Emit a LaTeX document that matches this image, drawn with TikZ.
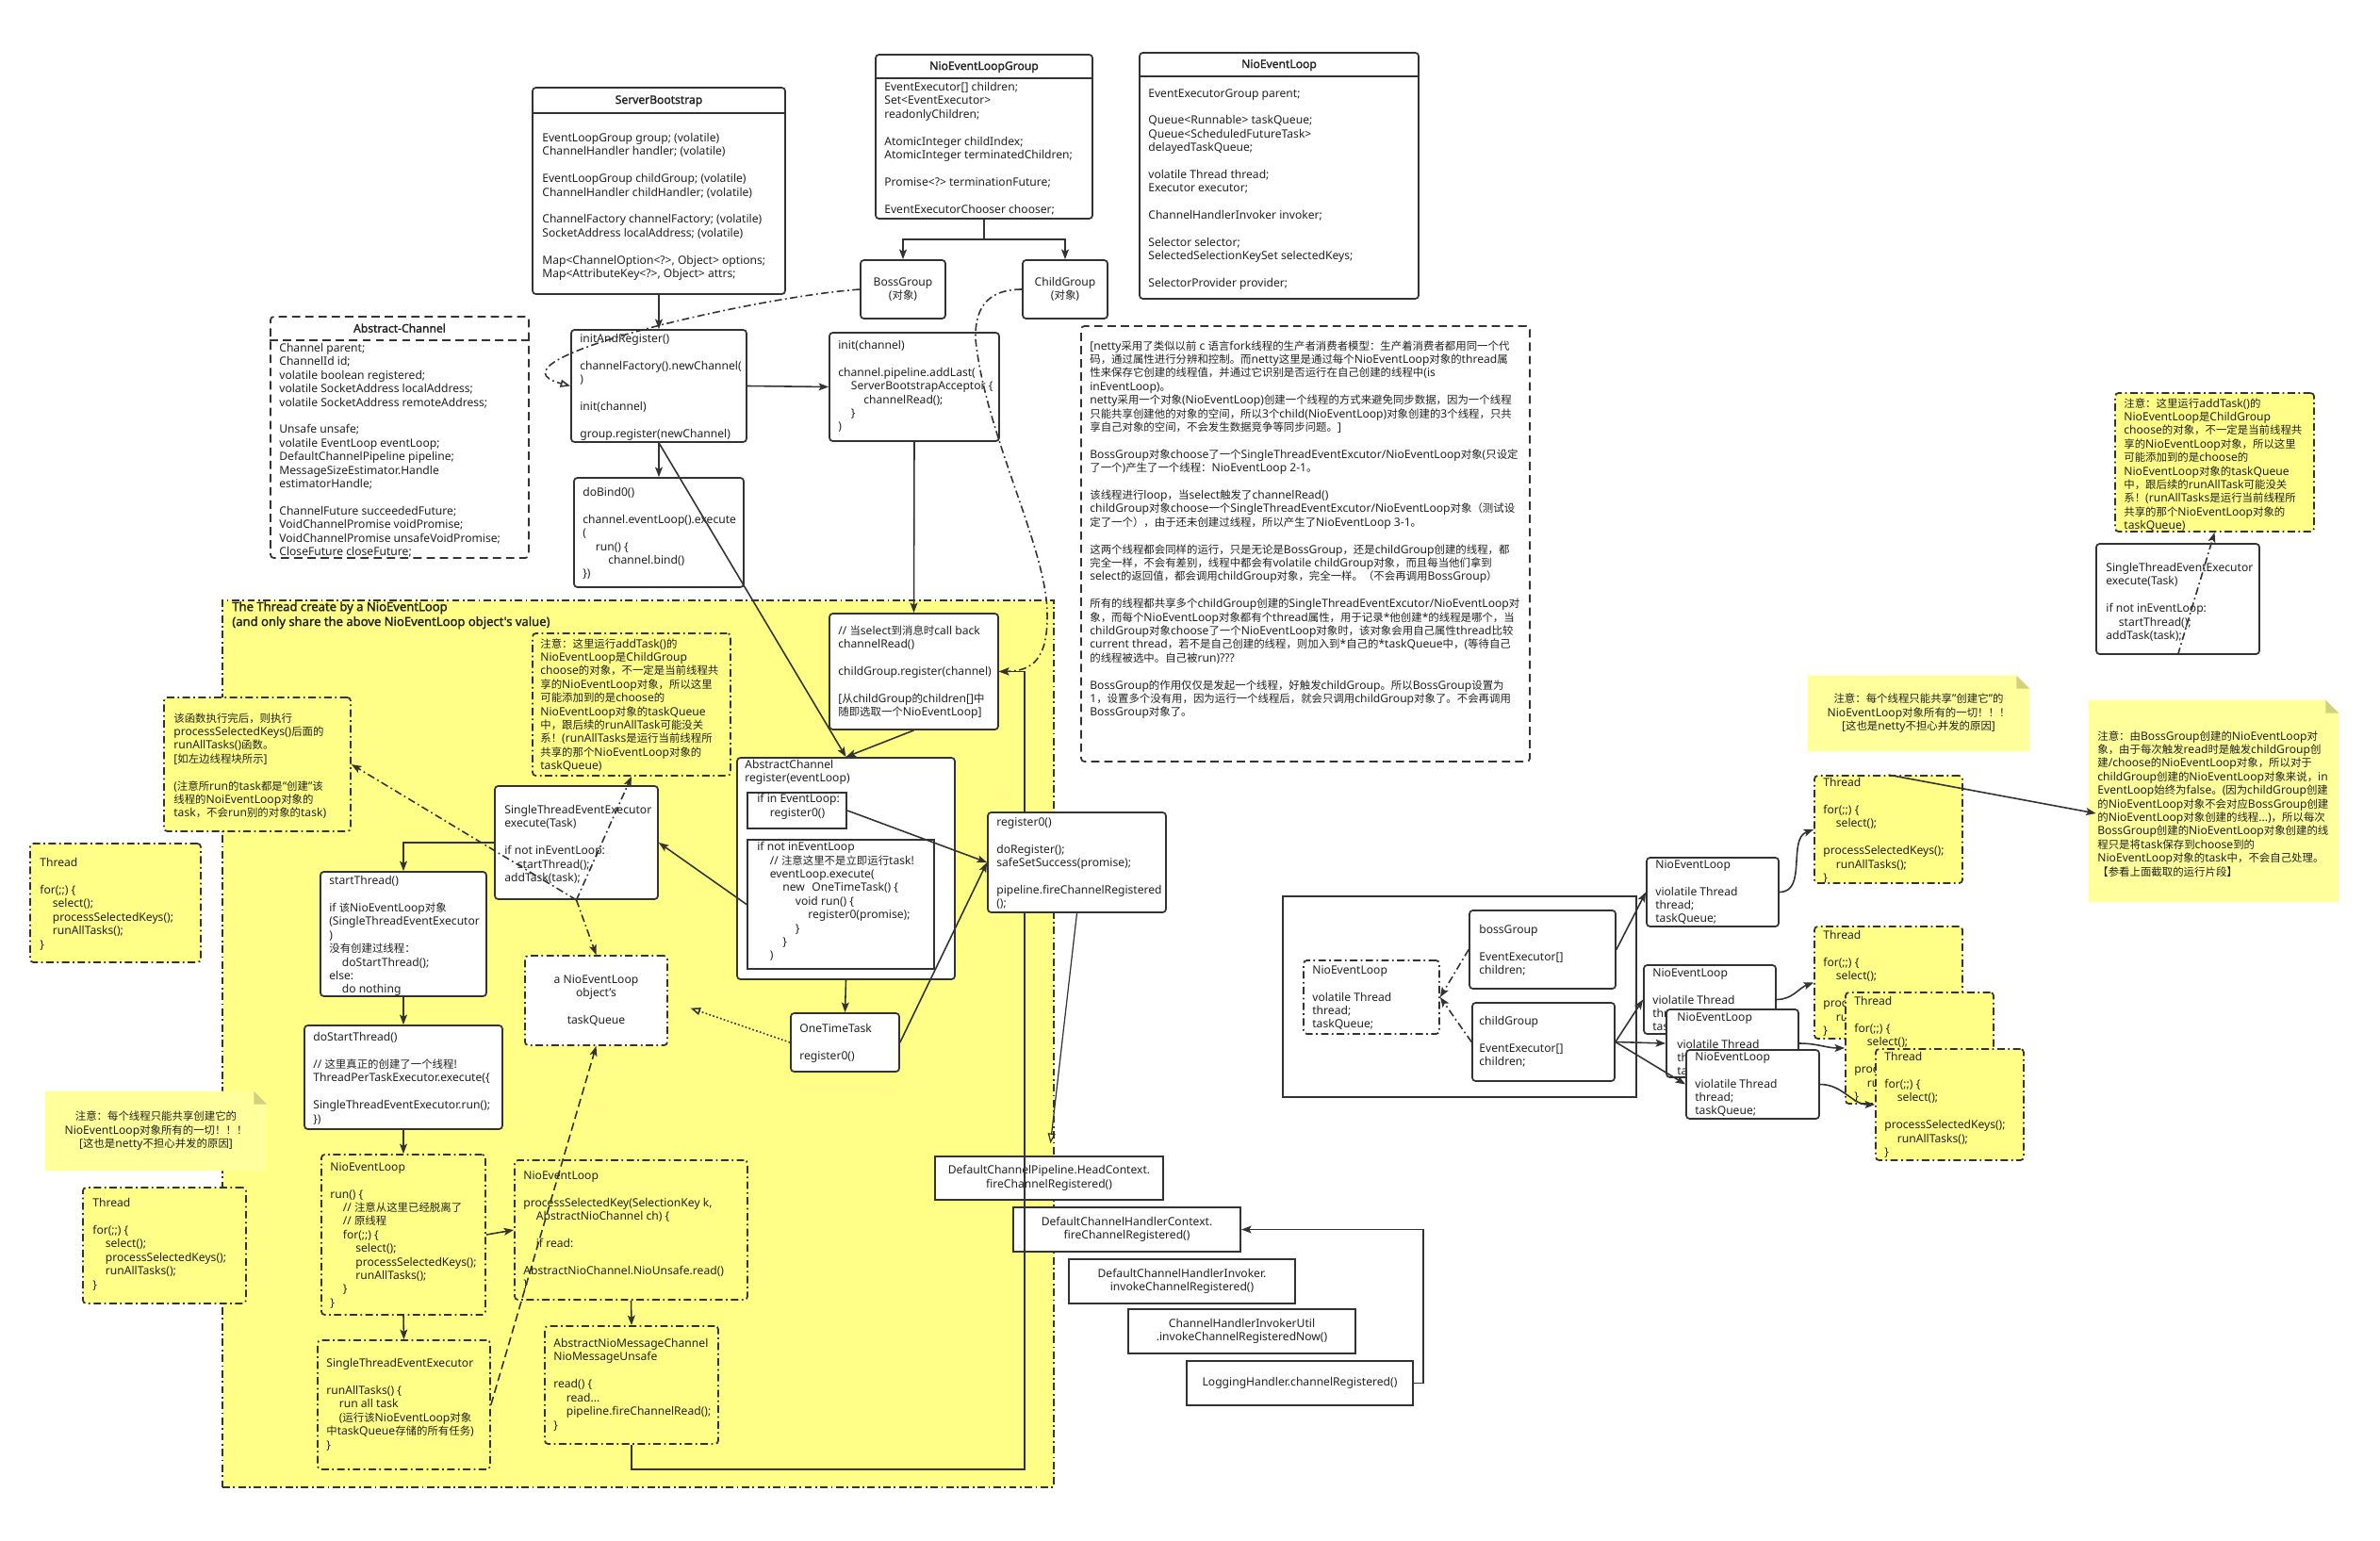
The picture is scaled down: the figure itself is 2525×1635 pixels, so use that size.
\documentclass[tikz,border=0pt]{standalone}
\usepackage{fontspec}
\setmainfont{Noto Sans}[Scale=1.06]
\newfontfamily\cjkfont{Noto Sans CJK SC}
\newfontfamily\titlefont{Noto Sans}[Scale=1.06, FakeBold=1.6]
\usepackage{xcolor}
\usetikzlibrary{arrows.meta,fit}

% switch to the CJK font for Chinese characters
\XeTeXinterchartokenstate=1
\newXeTeXintercharclass\cjkcls
\count255="3000
\loop
  \XeTeXcharclass\count255=\cjkcls
  \advance\count255 by 1
\ifnum\count255<"A000 \repeat
\count255="FF00
\loop
  \XeTeXcharclass\count255=\cjkcls
  \advance\count255 by 1
\ifnum\count255<"FFF0 \repeat
\XeTeXinterchartoks 0 \cjkcls = {\cjkfont}
\XeTeXinterchartoks 4095 \cjkcls = {\cjkfont}
\XeTeXinterchartoks \cjkcls 0 = {\rmfamily}
\XeTeXinterchartoks \cjkcls 4095 = {\rmfamily}

\definecolor{linec}{HTML}{333333}
\definecolor{textc}{HTML}{222222}
\definecolor{areayellow}{HTML}{FFFF88}
\definecolor{stickyyellow}{HTML}{FFFF9C}
\definecolor{foldc}{HTML}{D2D27E}

\newcommand\boxfont{\fontsize{6.5pt}{8.2pt}\selectfont}
\newcommand\indt{\hspace*{0.27cm}}

\tikzset{
box/.style={
draw=linec,
line width=1pt,
rounded corners=2pt,
fill=white,
inner sep=0pt
},
sqbox/.style={
draw=linec,
line width=1.2pt,
fill=white,
inner sep=0pt
},
dashdot/.style={dash pattern=on 4.5pt off 2pt on 1pt off 2pt},
longdash/.style={dash pattern=on 5pt off 2.5pt},
dotline/.style={dash pattern=on 1pt off 1.3pt},
ddbox/.style={box, fill=areayellow, dashdot},
ddwhite/.style={box, dashdot},
dashbox/.style={box, dash pattern=on 5pt off 3pt},
area/.style={
draw=linec,
line width=1pt,
fill=areayellow,
inner sep=0pt,
dashdot
},
txt/.style={
inner sep=0pt,
anchor=north west,
align=left,
font=\boxfont,
text=textc
},
ctxt/.style={
inner sep=0pt,
align=center,
font=\boxfont,
text=textc
},
head/.style={inner sep=0pt, font=\boxfont\titlefont, text=textc},
hline/.style={draw=linec, line width=1pt},
arrow/.style={
-{Stealth[length=6pt,width=4.5pt,inset=1.3pt]},
draw=linec,
line width=0.9pt
},
openarrow/.style={
-{Triangle[open,length=6pt,width=4.5pt]},
draw=linec,
line width=0.9pt
},
sticky/.style={fill=stickyyellow},
fold/.style={fill=foldc}
}

\begin{document}
\begin{tikzpicture}[x=0.02cm,y=-0.02cm]
\fill[white] (0,0) rectangle (2525,1635);
\useasboundingbox (0,0) rectangle (2525,1635);

% classes at the top
\node[box, fit={(565,93)(833,312)}] (sb) {};
\draw[hline] ([shift={(0,28)}]sb.north west) -- ([shift={(0,28)}]sb.north east);
\node[head] (sbH) at ([shift={(0,15)}]sb.north) {ServerBootstrap};
\node[txt] (sbT) at (575,141) {EventLoopGroup group; (volatile)\\
ChannelHandler handler; (volatile)\\ \\
EventLoopGroup childGroup; (volatile)\\
ChannelHandler childHandler; (volatile)\\ \\
ChannelFactory channelFactory; (volatile)\\
SocketAddress localAddress; (volatile)\\ \\
Map<ChannelOption<?>, Object> options;\\
Map<AttributeKey<?>, Object> attrs;};

\node[box, fit={(929,58)(1159,232)}] (grp) {};
\draw[hline] ([shift={(0,26)}]grp.north west) -- ([shift={(0,26)}]grp.north east);
\node[head] (grpH) at ([shift={(0,14)}]grp.north) {NioEventLoopGroup};
\node[txt] (grpT) at (938,87) {EventExecutor[] children;\\
Set<EventExecutor>\\
readonlyChildren;\\ \\
AtomicInteger childIndex;\\
AtomicInteger terminatedChildren;\\ \\
Promise<?> terminationFuture;\\ \\
EventExecutorChooser chooser;};

\node[box, fit={(1209,56)(1505,317)}] (nel) {};
\draw[hline] ([shift={(0,26)}]nel.north west) -- ([shift={(0,26)}]nel.north east);
\node[head] (nelH) at ([shift={(0,14)}]nel.north) {NioEventLoop};
\node[txt] (nelT) at (1218,94) {EventExecutorGroup parent;\\ \\
Queue<Runnable> taskQueue;\\
Queue<ScheduledFutureTask>\\
delayedTaskQueue;\\ \\
volatile Thread thread;\\
Executor executor;\\ \\
ChannelHandlerInvoker invoker;\\ \\
Selector selector;\\
SelectedSelectionKeySet selectedKeys;\\ \\
SelectorProvider provider;};

\node[box, fit={(913,276)(1003,338)}] (boss) {};
\node[ctxt] (bossT) at (boss.center) {BossGroup\\(对象)};
\node[box, fit={(1085,276)(1175,338)}] (child) {};
\node[ctxt] (childT) at (child.center) {ChildGroup\\(对象)};

\node[dashbox, fit={(287,336)(561,592)}] (ac) {};
\draw[hline, dash pattern=on 5pt off 3pt] ([shift={(0,26)}]ac.north west) -- ([shift={(0,26)}]ac.north east);
\node[head] (acH) at ([shift={(0,13)}]ac.north) {Abstract-Channel};
\node[txt] (acT) at (296,364) {Channel parent;\\
ChannelId id;\\
volatile boolean registered;\\
volatile SocketAddress localAddress;\\
volatile SocketAddress remoteAddress;\\ \\
Unsafe unsafe;\\
volatile EventLoop eventLoop;\\
DefaultChannelPipeline pipeline;\\
MessageSizeEstimator.Handle\\
estimatorHandle;\\ \\
ChannelFuture succeededFuture;\\
VoidChannelPromise voidPromise;\\
VoidChannelPromise unsafeVoidPromise;\\
CloseFuture closeFuture;};

\node[box, fit={(606,350)(792,469)}] (ir) {};
\node[txt] (irT) at (615,354) {initAndRegister()\\ \\
channelFactory().newChannel(\\
)\\ \\
init(channel)\\ \\
group.register(newChannel)};

\node[box, fit={(880,353)(1060,468)}] (ic) {};
\node[txt] (icT) at (889,361) {init(channel)\\ \\
channel.pipeline.addLast(\\
\indt ServerBootstrapAcceptor \{\\
\indt\indt channelRead();\\
\indt \}\\
)};

\node[box, fit={(609,507)(789,623)}] (db) {};
\node[txt] (dbT) at (618,517) {doBind0()\\ \\
channel.eventLoop().execute\\
(\\
\indt run() \{\\
\indt\indt channel.bind()\\
\})};

\node[dashbox, fit={(1147,346)(1623,808)}] (tb) {};
\node[txt] (tbT) at (1156,361) {{[}netty采用了类似以前 c 语言fork线程的生产者消费者模型：生产着消费者都用同一个代\\
码，通过属性进行分辨和控制。而netty这里是通过每个NioEventLoop对象的thread属\\
性来保存它创建的线程值，并通过它识别是否运行在自己创建的线程中(is\\
inEventLoop)。\\
netty采用一个对象(NioEventLoop)创建一个线程的方式来避免同步数据，因为一个线程\\
只能共享创建他的对象的空间，所以3个child(NioEventLoop)对象创建的3个线程，只共\\
享自己对象的空间，不会发生数据竞争等同步问题。]\\ \\
BossGroup对象choose了一个SingleThreadEventExcutor/NioEventLoop对象(只设定\\
了一个)产生了一个线程：NioEventLoop 2-1。\\ \\
该线程进行loop，当select触发了channelRead()\\
childGroup对象choose一个SingleThreadEventExcutor/NioEventLoop对象（测试设\\
定了一个），由于还未创建过线程，所以产生了NioEventLoop 3-1。\\ \\
这两个线程都会同样的运行，只是无论是BossGroup，还是childGroup创建的线程，都\\
完全一样，不会有差别，线程中都会有volatile childGroup对象，而且每当他们拿到\\
select的返回值，都会调用childGroup对象，完全一样。（不会再调用BossGroup）\\ \\
所有的线程都共享多个childGroup创建的SingleThreadEventExcutor/NioEventLoop对\\
象，而每个NioEventLoop对象都有个thread属性，用于记录*他创建*的线程是哪个，当\\
childGroup对象choose了一个NioEventLoop对象时，该对象会用自己属性thread比较\\
current thread，若不是自己创建的线程，则加入到*自己的*taskQueue中，(等待自己\\
的线程被选中。自己被run)???\\ \\
BossGroup的作用仅仅是发起一个线程，好触发childGroup。所以BossGroup设置为\\
1，设置多个没有用，因为运行一个线程后，就会只调用childGroup对象了。不会再调用\\
BossGroup对象了。};

% the thread area
\node[area, fit={(236,637)(1118,1578)}] (reg) {};
\node[txt, font=\fontsize{7pt}{9pt}\titlefont] (regT) at (246,638) {The Thread create by a NioEventLoop\\
(and only share the above NioEventLoop object's value)};

\node[ddbox, fit={(565,672)(775,823)}] (na) {};
\node[txt] (naT) at (573,677) {注意：这里运行addTask()的\\
NioEventLoop是ChildGroup\\
choose的对象，不一定是当前线程共\\
享的NioEventLoop对象，所以这里\\
可能添加到的是choose的\\
NioEventLoop对象的taskQueue\\
中，跟后续的runAllTask可能没关\\
系！(runAllTasks是运行当前线程所\\
共享的那个NioEventLoop对象的\\
taskQueue)};

\node[ddbox, fit={(174,740)(372,882)}] (nl) {};
\node[txt] (nlT) at (184,756) {该函数执行完后，则执行\\
processSelectedKeys()后面的\\
runAllTasks()函数。\\
{[}如左边线程块所示]\\ \\
(注意所run的task都是“创建”该\\
线程的NoiEventLoop对象的\\
task，不会run别的对象的task)};

\node[ddbox, fit={(32,895)(213,1021)}] (thA) {};
\node[txt] (thAT) at (42,910) {Thread\\ \\
for(;;) \{\\
\indt select();\\
\indt processSelectedKeys();\\
\indt runAllTasks();\\
\}};

\node[box, fit={(525,834)(698,954)}] (ste) {};
\node[txt] (steT) at (535,854) {SingleThreadEventExecutor\\
execute(Task)\\ \\
if not inEventLoop:\\
\indt startThread();\\
addTask(task);};

\node[box, fit={(340,925)(516,1057)}] (st) {};
\node[txt] (stT) at (349,929) {startThread()\\ \\
if 该NioEventLoop对象\\
(SingleThreadEventExecutor\\
)\\
没有创建过线程：\\
\indt doStartThread();\\
else:\\
\indt do nothing};

\node[box, fit={(782,804)(1013,1039)}] (acr) {};
\node[txt] (acrT) at (790,806) {AbstractChannel\\
register(eventLoop)};
\node[sqbox, fit={(793,841)(898,879)}] (ie) {};
\node[txt] (ieT) at (803,842) {if in EventLoop:\\
\indt register0()};
\node[sqbox, fit={(793,891)(991,1028)}] (ine) {};
\node[txt] (ineT) at (803,893) {if not inEventLoop\\
\indt // 注意这里不是立即运行task!\\
\indt eventLoop.execute(\\
\indt\indt new\hspace*{0.15cm}OneTimeTask() \{\\
\indt\indt\indt void run() \{\\
\indt\indt\indt\indt register0(promise);\\
\indt\indt\indt \}\\
\indt\indt \}\\
\indt )};

\node[box, fit={(880,651)(1059,774)}] (sel) {};
\node[txt] (selT) at (889,663) {// 当select到消息时call back\\
channelRead()\\ \\
childGroup.register(channel)\\ \\
{[}从childGroup的children[]中\\
随即选取一个NioEventLoop]};

\node[ddwhite, fit={(557,1014)(708,1109)}] (tq) {};
\node[ctxt] (tqT) at (tq.center) {a NioEventLoop\\
object's\\ \\
taskQueue};

\node[box, fit={(839,1075)(954,1137)}] (ot) {};
\node[txt] (otT) at (848,1086) {OneTimeTask\\ \\
register0()};

\node[box, fit={(323,1088)(533,1198)}] (dst) {};
\node[txt] (dstT) at (332,1095) {doStartThread()\\ \\
// 这里真正的创建了一个线程!\\
ThreadPerTaskExecutor.execute(\{\\ \\
SingleThreadEventExecutor.run();\\
\})};

\node[ddbox, fit={(341,1225)(515,1395)}] (nr) {};
\node[txt] (nrT) at (350,1233) {NioEventLoop\\ \\
run() \{\\
\indt // 注意从这里已经脱离了\\
\indt // 原线程\\
\indt for(;;) \{\\
\indt\indt select();\\
\indt\indt processSelectedKeys();\\
\indt\indt runAllTasks();\\
\indt \}\\
\}};

\node[ddbox, fit={(337,1422)(520,1559)}] (rat) {};
\node[txt] (ratT) at (346,1441) {SingleThreadEventExecutor\\ \\
runAllTasks() \{\\
\indt run all task\\
\indt (运行该NioEventLoop对象\\
中taskQueue存储的所有任务)\\
\}};

\node[ddbox, fit={(546,1231)(793,1379)}] (psk) {};
\node[txt] (pskT) at (555,1242) {NioEventLoop\\ \\
processSelectedKey(SelectionKey k,\\
\indt AbstractNioChannel ch) \{\\ \\
\indt if read:\\ \\
AbstractNioChannel.NioUnsafe.read()\\
\}};

\node[ddbox, fit={(578,1407)(762,1532)}] (anmc) {};
\node[txt] (anmcT) at (587,1420) {AbstractNioMessageChannel\\
NioMessageUnsafe\\ \\
read() \{\\
\indt read...\\
\indt pipeline.fireChannelRead();\\
\}};

% notes on the left edge
\node[inner sep=0pt, fit={(48,1158)(283,1242)}] (snA) {};
\fill[sticky] (snA.north west) -- ([shift={(-14,0)}]snA.north east) -- ([shift={(0,14)}]snA.north east) -- (snA.south east) -- (snA.south west) -- cycle;
\fill[fold] ([shift={(-14,0)}]snA.north east) -- ([shift={(-14,14)}]snA.north east) -- ([shift={(0,14)}]snA.north east) -- cycle;
\node[ctxt] (snAT) at (snA.center) {注意：每个线程只能共享创建它的\\
NioEventLoop对象所有的一切！！！\\
{[}这也是netty不担心并发的原因]};

\node[ddbox, fit={(88,1260)(261,1383)}] (thB) {};
\node[txt] (thBT) at (98,1271) {Thread\\ \\
for(;;) \{\\
\indt select();\\
\indt processSelectedKeys();\\
\indt runAllTasks();\\
\}};

% pipeline calls
\node[sqbox, fit={(992,1227)(1234,1273)}] (hc) {};
\node[ctxt] (hcT) at (hc.center) {DefaultChannelPipeline.HeadContext.\\
fireChannelRegistered()};
\node[sqbox, fit={(1075,1281)(1316,1328)}] (dchc) {};
\node[ctxt] (dchcT) at (dchc.center) {DefaultChannelHandlerContext.\\
fireChannelRegistered()};
\node[sqbox, fit={(1134,1336)(1374,1383)}] (dchi) {};
\node[ctxt] (dchiT) at (dchi.center) {DefaultChannelHandlerInvoker.\\
invokeChannelRegistered()};
\node[sqbox, fit={(1197,1389)(1438,1436)}] (chiu) {};
\node[ctxt] (chiuT) at (chiu.center) {ChannelHandlerInvokerUtil\\
.invokeChannelRegisteredNow()};
\node[sqbox, fit={(1259,1444)(1499,1491)}] (lh) {};
\node[ctxt] (lhT) at (lh.center) {LoggingHandler.channelRegistered()};

\coordinate (rbus) at (1087,1559);
\draw[arrow] (anmc.south) |- (rbus) |- (sel.east);

\node[box, fit={(1048,862)(1237,968)}] (rg) {};
\node[txt] (rgT) at (1057,867) {register0()\\ \\
doRegister();\\
safeSetSuccess(promise);\\ \\
pipeline.fireChannelRegistered\\
();};

% connectors
\draw[arrow] (sb.south) -- (ir.north);
\draw[arrow] (grp.south) -- ++(0,21) -| (boss.north);
\draw[arrow] (grp.south) -- ++(0,21) -| (child.north);
\draw[openarrow, dashdot] (boss.west) .. controls (800,315) and (505,383) .. (ir.west);
\draw[arrow, dashdot] (child.west) .. controls (1045,307) and (1034,330) .. (1035,360) .. controls (1045,460) and (1110,580) .. (1111,650) .. controls (1112,700) and (1095,712) .. (sel.east);
\draw[arrow] (ir.east) -- (ic.west);
\draw[arrow] (ir.south) -- (db.north);
\draw[arrow] (ir.south) -- (acr.north);
\draw[arrow] (ic.south) -- (sel.north);
\draw[arrow] (sel.south) -- (acr.north);
\draw[arrow] (ie.east) -- (rg.west);
\draw[arrow] (ot.east) -- (rg.west);
\draw[arrow] (acr.south) -- (ot.north);
\draw[arrow] (ine.west) -- (ste.east);
\draw[arrow] (ste.west) -| (st.north);
\draw[arrow] (st.south) -- (dst.north);
\draw[arrow] (dst.south) -- (nr.north);
\draw[arrow] (nr.south) -- (rat.north);
\draw[arrow] (nr.east) -- (psk.west);
\draw[arrow] (psk.south) -- (anmc.north);
\draw[arrow, dashdot] (ste.south) -- (na.south);
\draw[arrow, dashdot] (ste.south) -- (nl.east);
\draw[arrow, dashdot] (ste.south) -- (tq.north);
\draw[arrow, longdash] (rat.east) -- (tq.south);
\draw[openarrow, dotline, shorten >=0.5cm] (ot.west) -- (tq.east);
\draw[openarrow, line width=0.7pt, shorten >=0.26cm] (rg.south) -- (hc.north);
\draw[arrow] (lh.east) -- ++(10,0) |- (dchc.east);

% right side
\node[ddbox, fit={(2244,417)(2455,564)}] (nb) {};
\node[txt] (nbT) at (2253,422) {注意：这里运行addTask()的\\
NioEventLoop是ChildGroup\\
choose的对象，不一定是当前线程共\\
享的NioEventLoop对象，所以这里\\
可能添加到的是choose的\\
NioEventLoop对象的taskQueue\\
中，跟后续的runAllTask可能没关\\
系！(runAllTasks是运行当前线程所\\
共享的那个NioEventLoop对象的\\
taskQueue)};

\node[box, fit={(2224,577)(2397,694)}] (steB) {};
\node[txt] (steBT) at (2234,597) {SingleThreadEventExecutor\\
execute(Task)\\ \\
if not inEventLoop:\\
\indt startThread();\\
addTask(task);};

\node[inner sep=0pt, fit={(1918,717)(2153,797)}] (snB) {};
\fill[sticky] (snB.north west) -- ([shift={(-14,0)}]snB.north east) -- ([shift={(0,14)}]snB.north east) -- (snB.south east) -- (snB.south west) -- cycle;
\fill[fold] ([shift={(-14,0)}]snB.north east) -- ([shift={(-14,14)}]snB.north east) -- ([shift={(0,14)}]snB.north east) -- cycle;
\node[ctxt] (snBT) at (snB.center) {注意：每个线程只能共享"创建它"的\\
NioEventLoop对象所有的一切！！！\\
{[}这也是netty不担心并发的原因]};

\node[inner sep=0pt, fit={(2216,743)(2481,957)}] (bn) {};
\fill[sticky] (bn.north west) -- ([shift={(-14,0)}]bn.north east) -- ([shift={(0,14)}]bn.north east) -- (bn.south east) -- (bn.south west) -- cycle;
\fill[fold] ([shift={(-14,0)}]bn.north east) -- ([shift={(-14,14)}]bn.north east) -- ([shift={(0,14)}]bn.north east) -- cycle;
\node[txt] (bnT) at (2225,775) {注意：由BossGroup创建的NioEventLoop对\\
象，由于每次触发read时是触发childGroup创\\
建/choose的NioEventLoop对象，所以对于\\
childGroup创建的NioEventLoop对象来说，in\\
EventLoop始终为false。(因为childGroup创建\\
的NioEventLoop对象不会对应BossGroup创建\\
的NioEventLoop对象创建的线程...)，所以每次\\
BossGroup创建的NioEventLoop对象创建的线\\
程只是将task保存到choose到的\\
NioEventLoop对象的task中，不会自己处理。\\
【参看上面截取的运行片段】};

\node[ddbox, fit={(1925,823)(2082,937)}] (th1) {};
\node[txt] (th1T) at (1934,825) {Thread\\ \\
for(;;) \{\\
\indt select();\\ \\
processSelectedKeys();\\
\indt runAllTasks();\\
\}};
\node[ddbox, fit={(1925,983)(2082,1102)}] (th2) {};
\node[txt] (th2T) at (1934,987) {Thread\\ \\
for(;;) \{\\
\indt select();\\ \\
processSelectedKeys();\\
\indt runAllTasks();\\
\}};
\node[ddbox, fit={(1958,1053)(2115,1171)}] (th3) {};
\node[txt] (th3T) at (1967,1057) {Thread\\ \\
for(;;) \{\\
\indt select();\\ \\
processSelectedKeys();\\
\indt runAllTasks();\\
\}};
\node[ddbox, fit={(1990,1113)(2147,1231)}] (th4) {};
\node[txt] (th4T) at (1999,1116) {Thread\\ \\
for(;;) \{\\
\indt select();\\ \\
processSelectedKeys();\\
\indt runAllTasks();\\
\}};

\node[sqbox, fit={(1361,951)(1736,1164)}] (grpBox) {};
\node[ddwhite, fit={(1383,1019)(1527,1097)}] (nel0) {};
\node[txt] (nel0T) at (1392,1024) {NioEventLoop\\ \\
volatile Thread\\
thread;\\
taskQueue;};
\node[box, fit={(1559,966)(1714,1049)}] (bg) {};
\node[txt] (bgT) at (1569,981) {bossGroup\\ \\
EventExecutor[]\\
children;};
\node[box, fit={(1562,1064)(1713,1147)}] (cg) {};
\node[txt] (cgT) at (1569,1078) {childGroup\\ \\
EventExecutor[]\\
children;};

\node[box, fit={(1747,910)(1887,983)}] (nel1) {};
\node[txt] (nel1T) at (1756,912) {NioEventLoop\\ \\
violatile Thread\\
thread;\\
taskQueue;};
\node[box, fit={(1744,1024)(1884,1097)}] (nel2) {};
\node[txt] (nel2T) at (1753,1027) {NioEventLoop\\ \\
violatile Thread\\
thread;\\
taskQueue;};
\node[box, fit={(1768,1071)(1908,1143)}] (nel3) {};
\node[txt] (nel3T) at (1779,1074) {NioEventLoop\\ \\
violatile Thread\\
thread;\\
taskQueue;};
\node[box, fit={(1789,1114)(1930,1187)}] (nel4) {};
\node[txt] (nel4T) at (1798,1116) {NioEventLoop\\ \\
violatile Thread\\
thread;\\
taskQueue;};

\draw[arrow, dashdot] (steB.south) -- (nb.south);
\draw[arrow] (th1.north) -- ([shift={(8,13)}]bn.west);
\draw[arrow] (nel1.east) to[out=0, in=200] (th1.west);
\draw[arrow] (nel2.east) to[out=0, in=200] (th2.west);
\draw[arrow] (nel3.east) to[out=0, in=180] (th3.west);
\draw[arrow] (nel4.east) to[out=0, in=180] (th4.west);
\draw[arrow] (bg.east) -- (nel1.west);
\draw[arrow] (cg.east) -- (nel2.west);
\draw[arrow] (cg.east) -- (nel3.west);
\draw[arrow] (cg.east) -- (nel4.west);
\draw[arrow, dashdot] (bg.west) -- (nel0.east);
\draw[arrow, dashdot] (cg.west) -- (nel0.east);
\end{tikzpicture}
\end{document}
